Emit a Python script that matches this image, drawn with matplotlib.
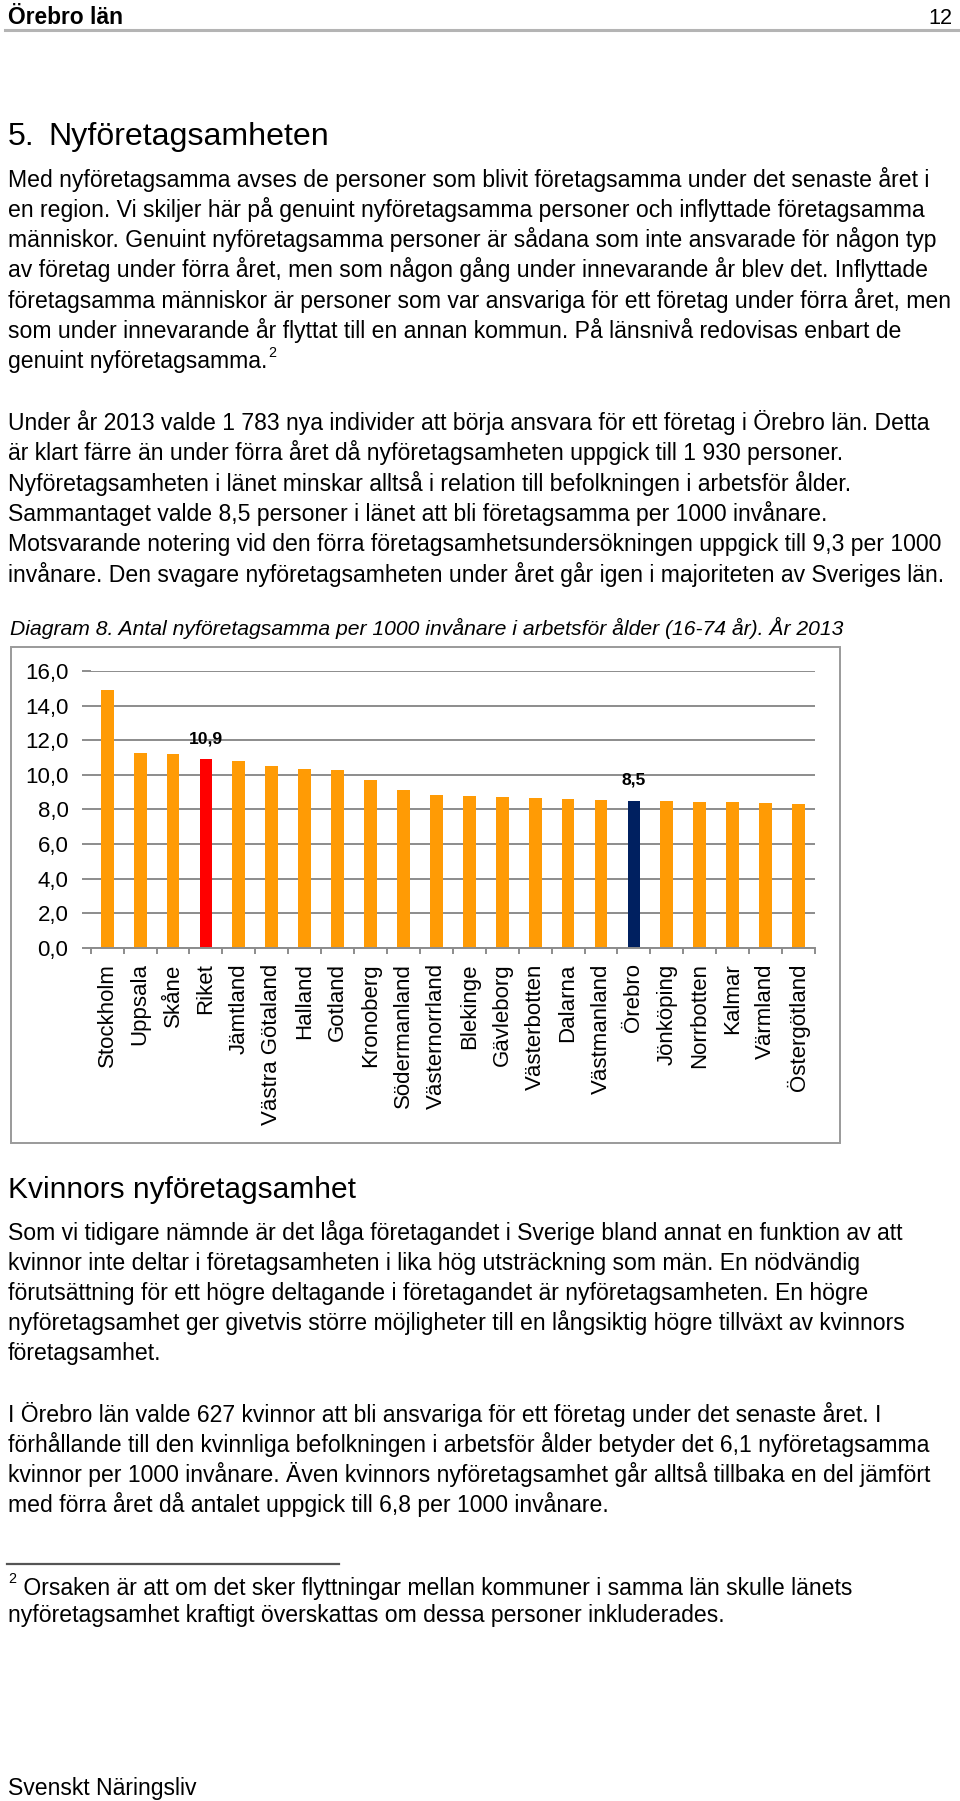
import matplotlib
matplotlib.use("Agg")
import matplotlib.pyplot as plt
from matplotlib.lines import Line2D
from matplotlib.patches import Rectangle
from matplotlib.ticker import FixedLocator

# ---------------- data ----------------
categories = ["Stockholm", "Uppsala", "Skåne", "Riket", "Jämtland", "Västra Götaland",
              "Halland", "Gotland", "Kronoberg", "Södermanland", "Västernorrland",
              "Blekinge", "Gävleborg", "Västerbotten", "Dalarna", "Västmanland",
              "Örebro", "Jönköping", "Norrbotten", "Kalmar", "Värmland", "Östergötland"]
values = [14.9, 11.25, 11.2, 10.9, 10.83, 10.54, 10.35, 10.3, 9.73, 9.13, 8.84,
          8.77, 8.75, 8.69, 8.6, 8.57, 8.5, 8.48, 8.44, 8.42, 8.38, 8.34]
highlight_colors = {"Riket": "#FF0000", "Örebro": "#002060"}
base_color = "#FF9B05"
labelled = {"Riket": "10,9", "Örebro": "8,5"}
yticks = [0, 2, 4, 6, 8, 10, 12, 14, 16]
ytick_labels = ["0,0", "2,0", "4,0", "6,0", "8,0", "10,0", "12,0", "14,0", "16,0"]

header_left = "Örebro län"
header_right = "12"
title_num = "5."
title_txt = "Nyföretagsamheten"
para1 = ["Med nyföretagsamma avses de personer som blivit företagsamma under det senaste året i",
         "en region. Vi skiljer här på genuint nyföretagsamma personer och inflyttade företagsamma",
         "människor. Genuint nyföretagsamma personer är sådana som inte ansvarade för någon typ",
         "av företag under förra året, men som någon gång under innevarande år blev det. Inflyttade",
         "företagsamma människor är personer som var ansvariga för ett företag under förra året, men",
         "som under innevarande år flyttat till en annan kommun. På länsnivå redovisas enbart de",
         "genuint nyföretagsamma."]
para2 = ["Under år 2013 valde 1 783 nya individer att börja ansvara för ett företag i Örebro län. Detta",
         "är klart färre än under förra året då nyföretagsamheten uppgick till 1 930 personer.",
         "Nyföretagsamheten i länet minskar alltså i relation till befolkningen i arbetsför ålder.",
         "Sammantaget valde 8,5 personer i länet att bli företagsamma per 1000 invånare.",
         "Motsvarande notering vid den förra företagsamhetsundersökningen uppgick till 9,3 per 1000",
         "invånare. Den svagare nyföretagsamheten under året går igen i majoriteten av Sveriges län."]
caption = "Diagram 8. Antal nyföretagsamma per 1000 invånare i arbetsför ålder (16-74 år). År 2013"
heading2 = "Kvinnors nyföretagsamhet"
para3 = ["Som vi tidigare nämnde är det låga företagandet i Sverige bland annat en funktion av att",
         "kvinnor inte deltar i företagsamheten i lika hög utsträckning som män. En nödvändig",
         "förutsättning för ett högre deltagande i företagandet är nyföretagsamheten. En högre",
         "nyföretagsamhet ger givetvis större möjligheter till en långsiktig högre tillväxt av kvinnors",
         "företagsamhet."]
para4 = ["I Örebro län valde 627 kvinnor att bli ansvariga för ett företag under det senaste året. I",
         "förhållande till den kvinnliga befolkningen i arbetsför ålder betyder det 6,1 nyföretagsamma",
         "kvinnor per 1000 invånare. Även kvinnors nyföretagsamhet går alltså tillbaka en del jämfört",
         "med förra året då antalet uppgick till 6,8 per 1000 invånare."]
footnote = [" Orsaken är att om det sker flyttningar mellan kommuner i samma län skulle länets",
            "nyföretagsamhet kraftigt överskattas om dessa personer inkluderades."]
footer = "Svenskt Näringsliv"

# ---------------- page ----------------
W, H = 960, 1801
FONT = "Liberation Sans"
plt.rcParams["font.family"] = [FONT, "DejaVu Sans"]
fig = plt.figure(figsize=(W / 100, H / 100), dpi=100)
fig.patch.set_facecolor("white")
renderer = fig.canvas.get_renderer()


def fx(x):
    return x / W


def fy(y):
    return 1 - y / H


def width_of(s, size, **kw):
    t = fig.text(0, 0, s, fontsize=size, **kw)
    w = t.get_window_extent(renderer).width
    t.remove()
    return w


def fit(s, target, **kw):
    return 20 * target / width_of(s, 20, **kw)


def put(x, y, s, size, ha="left", **kw):
    return fig.text(fx(x), fy(y), s, fontsize=size, ha=ha, va="baseline", color="black", **kw)


# header
hs = fit(header_left, 115, fontweight="bold")
put(8, 24, header_left, hs, fontweight="bold")
put(952, 24, header_right, hs * 0.95, ha="right")
fig.add_artist(Line2D([fx(5), fx(960)], [fy(30), fy(30)], color="#b4b4b4", lw=2.2))

# title
ts = fit(title_txt, 279)
put(8, 145, title_num, ts)
put(48, 145, title_txt, ts)

# body
bs = fit(para1[0], 922)
for i, line in enumerate(para1):
    put(8, 186.5 + i * 30.3, line, bs)
wl = width_of(para1[-1], bs)
put(8 + wl + 0.5, 357, "2", bs * 0.62)

for i, line in enumerate(para2):
    put(8, 430 + i * 30.35, line, bs)

cs = fit(caption, 830, style="italic")
put(10, 635, caption, cs, style="italic")

h2s = fit(heading2, 346)
put(8, 1198, heading2, h2s)
for i, line in enumerate(para3):
    put(8, 1240 + i * 30.0, line, bs)
for i, line in enumerate(para4):
    put(8, 1421.7 + i * 30.0, line, bs)

# footnote
fig.add_artist(Line2D([fx(7), fx(339)], [fy(1564), fy(1564)], color="#555555", lw=1.6))
fs = fit(footnote[1], 716)
put(8, 1583, "2", fs * 0.62)
put(17, 1595, footnote[0], fs)
put(8, 1622, footnote[1], fs)
put(8, 1795, footer, fit(footer, 189))

# chart frame
fig.add_artist(Rectangle((fx(11), fy(1143)), fx(840) - fx(11), fy(647) - fy(1143),
                         fill=False, edgecolor="#9a9a9a", lw=1.4, transform=fig.transFigure))

# ---------------- chart ----------------
ax_l, ax_r, ax_t, ax_b = 90.7, 815, 671, 948
ax = fig.add_axes([fx(ax_l), fy(ax_b), (ax_r - ax_l) / W, (ax_b - ax_t) / H])
x = list(range(len(categories)))
colors = [highlight_colors.get(c, base_color) for c in categories]
ax.bar(x, values, width=0.39, color=colors, zorder=3)
ax.set_xlim(-0.5, len(categories) - 0.5)
ax.set_ylim(0, 16)
ax.set_yticks(yticks)
ax.set_yticklabels(ytick_labels, fontsize=16)
ax.yaxis.grid(True, color="#8c8c8c", lw=1.4, zorder=0)
ax.tick_params(axis="y", length=6.5, width=1.4, color="#8c8c8c", pad=9.5)
ax.set_xticks(x)
ax.set_xticklabels(categories, rotation=90, fontsize=16, va="top", ha="center")
ax.tick_params(axis="x", length=0, pad=11)
ax.xaxis.set_minor_locator(FixedLocator([i - 0.5 for i in range(len(categories) + 1)]))
ax.tick_params(axis="x", which="minor", length=4.5, width=1.4, color="#8c8c8c")
for s in ["top", "right", "left"]:
    ax.spines[s].set_visible(False)
ax.spines["bottom"].set_color("#8c8c8c")
ax.spines["bottom"].set_linewidth(1.4)
ax.spines["bottom"].set_zorder(4)
for i, c in enumerate(categories):
    if c in labelled:
        ax.annotate(labelled[c], (i, values[i]), xytext=(0, 9.5), textcoords="offset points",
                    ha="center", va="bottom", fontsize=12.6, fontweight="bold")

fig.savefig("out.png", dpi=100, facecolor="white")
